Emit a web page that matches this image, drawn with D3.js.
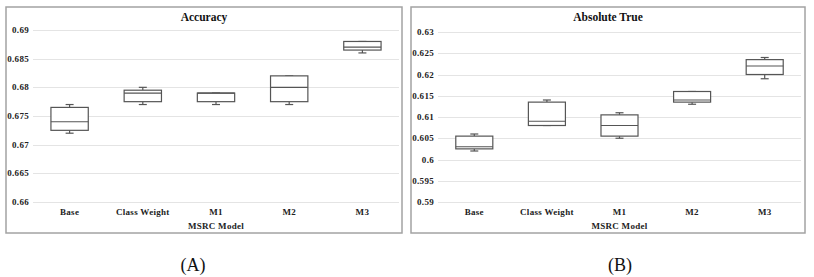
<!DOCTYPE html>
<html>
<head>
<meta charset="utf-8">
<script src="https://cdn.jsdelivr.net/npm/d3@7"></script>
<style>
  body { margin: 0; background: #fff; }
  svg text { font-family: "Liberation Serif", "DejaVu Serif", serif; }
</style>
</head>
<body>
<svg id="chart" width="814" height="277"></svg>
<script>
// categories shared by both panels
const categories = ["Base", "Class Weight", "M1", "M2", "M3"];

// Accuracy (panel A): five-number summaries
const accMin = [0.672, 0.677, 0.677, 0.677, 0.686];
const accQ1 = [0.6725, 0.6775, 0.6775, 0.6775, 0.6865];
const accMed = [0.674, 0.679, 0.679, 0.680, 0.687];
const accQ3 = [0.6765, 0.6795, 0.679, 0.682, 0.688];
const accMax = [0.677, 0.680, 0.679, 0.682, 0.688];
const accTicks = [0.66, 0.665, 0.67, 0.675, 0.68, 0.685, 0.69];

// Absolute True (panel B)
const absMin = [0.602, 0.608, 0.605, 0.613, 0.619];
const absQ1 = [0.6025, 0.608, 0.6055, 0.6135, 0.620];
const absMed = [0.603, 0.609, 0.608, 0.614, 0.622];
const absQ3 = [0.6055, 0.6135, 0.6105, 0.616, 0.6235];
const absMax = [0.606, 0.614, 0.611, 0.616, 0.624];
const absTicks = [0.59, 0.595, 0.6, 0.605, 0.61, 0.615, 0.62, 0.625, 0.63];

const svg = d3.select("#chart");

function drawPanel(opt) {
    const g = svg.append("g");

    // outer frame
    g.append("rect")
        .attr("x", opt.frame[0]).attr("y", opt.frame[1])
        .attr("width", opt.frame[2] - opt.frame[0])
        .attr("height", opt.frame[3] - opt.frame[1])
        .attr("fill", "#fff")
        .attr("stroke", "#a3a3a3")
        .attr("stroke-width", 1.5);

    const x = d3.scaleBand()
        .domain(categories)
        .range([opt.left, opt.right])
        .paddingInner(0.49)
        .paddingOuter(0.245);

    const y = d3.scaleLinear()
        .domain(d3.extent(opt.ticks))
        .range([opt.bottom, opt.top]);

    // gridlines
    g.append("g").selectAll("line")
        .data(opt.ticks)
        .enter().append("line")
        .attr("x1", opt.left).attr("x2", opt.right)
        .attr("y1", d => Math.round(y(d)) + 0.5)
        .attr("y2", d => Math.round(y(d)) + 0.5)
        .attr("stroke", "#e4e4e4")
        .attr("stroke-width", 1);

    // y tick labels
    g.append("g").selectAll("text")
        .data(opt.ticks)
        .enter().append("text")
        .attr("x", opt.left - 4)
        .attr("y", d => y(d) + 3)
        .attr("text-anchor", "end")
        .attr("font-size", "9px")
        .attr("font-weight", "bold")
        .attr("letter-spacing", "0.3px")
        .attr("fill", "#222")
        .text(d => d3.format("")(+d.toFixed(3)));

    // x tick labels
    g.append("g").selectAll("text")
        .data(categories)
        .enter().append("text")
        .attr("x", d => x(d) + x.bandwidth() / 2)
        .attr("y", opt.bottom + 13)
        .attr("text-anchor", "middle")
        .attr("font-size", "9px")
        .attr("font-weight", "bold")
        .attr("letter-spacing", "0.3px")
        .attr("fill", "#222")
        .text(d => d);

    // axis title
    g.append("text")
        .attr("x", (opt.left + opt.right) / 2)
        .attr("y", opt.bottom + 27)
        .attr("text-anchor", "middle")
        .attr("font-size", "9px")
        .attr("font-weight", "bold")
        .attr("letter-spacing", "0.3px")
        .attr("fill", "#222")
        .text("MSRC Model");

    // chart title
    g.append("text")
        .attr("x", (opt.frame[0] + opt.frame[2]) / 2)
        .attr("y", 21)
        .attr("text-anchor", "middle")
        .attr("font-size", "11.5px")
        .attr("font-weight", "bold")
        .attr("fill", "#111")
        .text(opt.title);

    // boxes
    const rows = categories.map((c, i) => ({
        cat: c, min: opt.min[i], q1: opt.q1[i], med: opt.med[i], q3: opt.q3[i], max: opt.max[i]
    }));

    const boxes = g.append("g").selectAll("g")
        .data(rows)
        .enter().append("g");

    const stroke = "#555";
    const cap = 4;

    boxes.append("line")
        .attr("x1", d => x(d.cat) + x.bandwidth() / 2)
        .attr("x2", d => x(d.cat) + x.bandwidth() / 2)
        .attr("y1", d => y(d.q3)).attr("y2", d => y(d.max))
        .attr("stroke", stroke).attr("stroke-width", 1.2);
    boxes.append("line")
        .attr("x1", d => x(d.cat) + x.bandwidth() / 2)
        .attr("x2", d => x(d.cat) + x.bandwidth() / 2)
        .attr("y1", d => y(d.q1)).attr("y2", d => y(d.min))
        .attr("stroke", stroke).attr("stroke-width", 1.2);
    boxes.selectAll(".cap")
        .data(d => [d.min, d.max].map(v => ({ cat: d.cat, v: v })))
        .enter().append("line")
        .attr("class", "cap")
        .attr("x1", d => x(d.cat) + x.bandwidth() / 2 - cap)
        .attr("x2", d => x(d.cat) + x.bandwidth() / 2 + cap)
        .attr("y1", d => y(d.v)).attr("y2", d => y(d.v))
        .attr("stroke", stroke).attr("stroke-width", 1.2);

    boxes.append("rect")
        .attr("x", d => x(d.cat))
        .attr("y", d => y(d.q3))
        .attr("width", x.bandwidth())
        .attr("height", d => y(d.q1) - y(d.q3))
        .attr("fill", "#fff")
        .attr("stroke", stroke)
        .attr("stroke-width", 1.2);

    boxes.append("line")
        .attr("x1", d => x(d.cat)).attr("x2", d => x(d.cat) + x.bandwidth())
        .attr("y1", d => y(d.med)).attr("y2", d => y(d.med))
        .attr("stroke", stroke).attr("stroke-width", 1.2);

    // panel label
    svg.append("text")
        .attr("x", opt.label[0]).attr("y", opt.label[1])
        .attr("text-anchor", "middle")
        .attr("font-size", "18px")
        .attr("fill", "#111")
        .text(opt.labelText);
}

drawPanel({
    title: "Accuracy",
    frame: [6, 7, 402, 233],
    left: 33, right: 399, top: 30, bottom: 202,
    ticks: accTicks,
    min: accMin, q1: accQ1, med: accMed, q3: accQ3, max: accMax,
    label: [193, 271], labelText: "(A)"
});

drawPanel({
    title: "Absolute True",
    frame: [411, 7, 805, 233],
    left: 438, right: 801, top: 32, bottom: 202,
    ticks: absTicks,
    min: absMin, q1: absQ1, med: absMed, q3: absQ3, max: absMax,
    label: [620, 271], labelText: "(B)"
});
</script>
</body>
</html>
